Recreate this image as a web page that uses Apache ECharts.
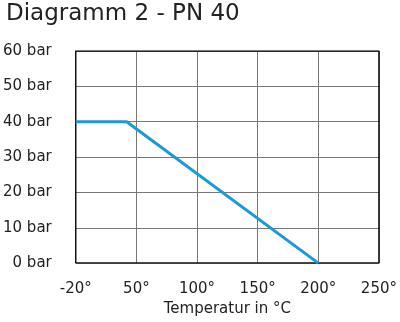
<!DOCTYPE html>
<html>
<head>
<meta charset="utf-8">
<script src="https://cdn.jsdelivr.net/npm/echarts@6/dist/echarts.min.js"></script>
<style>
html,body{margin:0;padding:0;background:#fff;}
#c{width:400px;height:322px;}
</style>
</head>
<body>
<div id="c"></div>
<script>
// Tick positions along the x axis (axis units) and their printed labels
var xTickPositions = [0, 50, 100, 150, 200, 250];
var xTickLabels = ['-20°', '50°', '100°', '150°', '200°', '250°'];
// Pressure curve: x in axis units, y in bar
var curveX = [0, 42, 200];
var curveY = [40, 40, 0];
var yTicks = [0, 10, 20, 30, 40, 50, 60];

var labelMap = {};
xTickPositions.forEach(function (p, i) { labelMap[p] = xTickLabels[i]; });

var font = 'DejaVu Sans';
var chart = echarts.init(document.getElementById('c'));
chart.setOption({
  animation: false,
  backgroundColor: '#fff',
  title: {
    text: 'Diagramm 2 - PN 40',
    left: 1,
    top: -2,
    textStyle: { fontFamily: font, fontSize: 23, fontWeight: 'normal', color: '#222' }
  },
  grid: { left: 75.7, right: 19.8, top: 51, bottom: 57, containLabel: false },
  xAxis: {
    type: 'value',
    min: 0, max: 250, interval: 50,
    name: 'Temperatur in °C',
    nameLocation: 'middle',
    nameGap: 38,
    nameTextStyle: { fontFamily: font, fontSize: 15, color: '#222' },
    axisLine: { show: false },
    axisTick: { show: false },
    axisLabel: {
      margin: 19,
      fontFamily: font, fontSize: 15, color: '#222',
      formatter: function (v) { return labelMap[v] !== undefined ? labelMap[v] : ''; }
    },
    splitLine: { show: true, lineStyle: { color: '#777', width: 1 } }
  },
  yAxis: {
    type: 'value',
    min: yTicks[0], max: yTicks[yTicks.length - 1], interval: 10,
    axisLine: { show: false },
    axisTick: { show: false },
    axisLabel: {
      margin: 24,
      fontFamily: font, fontSize: 15, color: '#222',
      formatter: function (v) { return v + ' bar'; }
    },
    splitLine: { show: true, lineStyle: { color: '#777', width: 1 } }
  },
  series: [{
    type: 'line',
    data: curveX.map(function (x, i) { return [x, curveY[i]]; }),
    symbol: 'none',
    lineStyle: { color: '#1a9ad8', width: 3 },
    z: 3
  }, {
    // plot frame
    type: 'line',
    data: [[0, 0], [250, 0], [250, 60], [0, 60], [0, 0]],
    symbol: 'none',
    lineStyle: { color: '#111', width: 1.5 },
    silent: true,
    z: 2
  }]
});
</script>
</body>
</html>
